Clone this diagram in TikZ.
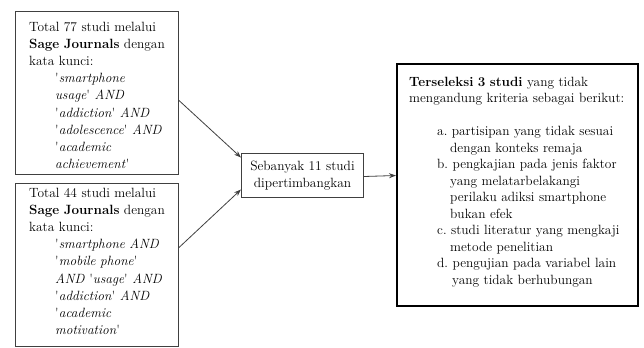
\documentclass[tikz,border=0pt]{standalone}
\usetikzlibrary{arrows.meta}
\definecolor{boxgray}{HTML}{404040}
\newcommand{\qq}{\textquotesingle}
\frenchspacing
\begin{document}
\begin{tikzpicture}[x=1bp,y=-1bp,
  box/.style={draw=boxgray, line width=1bp, inner sep=0pt, anchor=north west},
  bigbox/.style={draw=black, line width=2bp, inner sep=0pt, anchor=north west},
  txt/.style={inner sep=0pt, align=left, anchor=base west,
    font=\fontsize{13.4bp}{17.2bp}\selectfont},
  midtxt/.style={align=center, font=\fontsize{13.4bp}{17.2bp}\selectfont},
  arr/.style={draw=boxgray, line width=0.8bp, -{Stealth[length=7bp,width=5bp]}}
]
\useasboundingbox (0,0) rectangle (644,347);

% boxes
\node[box, minimum width=163bp, minimum height=163bp] (b1) at (15,11) {};
\node[box, minimum width=163bp, minimum height=163bp] (b2) at (15,183) {};
\node[box, minimum width=122bp, minimum height=44bp, midtxt] (mid) at (241,153)
  {Sebanyak 11 studi\\dipertimbangkan};
\node[bigbox, minimum width=241bp, minimum height=242bp] (res) at (396,63) {};

% texts
\node[txt, text width=160bp] (t1) at (29,31) {Total 77 studi melalui\\
\textbf{Sage Journals} dengan\\
kata kunci:\\
\hspace*{26bp}\qq\textit{smartphone}\\
\hspace*{26bp}\textit{usage}\qq{} \textit{AND}\\
\hspace*{26bp}\qq\textit{addiction}\qq{} \textit{AND}\\
\hspace*{26bp}\qq\textit{adolescence}\qq{} \textit{AND}\\
\hspace*{26bp}\qq\textit{academic}\\
\hspace*{26bp}\textit{achievement}\qq};

\node[txt, text width=160bp] (t2) at (29,197) {Total 44 studi melalui\\
\textbf{Sage Journals} dengan\\
kata kunci:\\
\hspace*{26bp}\qq\textit{smartphone AND}\\
\hspace*{26bp}\qq\textit{mobile phone}\qq\\
\hspace*{26bp}\textit{AND} \qq\textit{usage}\qq{} \textit{AND}\\
\hspace*{26bp}\qq\textit{addiction}\qq{} \textit{AND}\\
\hspace*{26bp}\qq\textit{academic}\\
\hspace*{26bp}\textit{motivation}\qq};

\node[txt, text width=230bp, font=\fontsize{13.4bp}{16.5bp}\selectfont] (t3) at (409,86)
{\textbf{Terseleksi 3 studi} yang tidak\\
mengandung kriteria sebagai berikut:\\[16.5bp]
\hspace*{28bp}a. partisipan yang tidak sesuai\\
\hspace*{41bp}dengan konteks remaja\\
\hspace*{28bp}b. pengkajian pada jenis faktor\\
\hspace*{41bp}yang melatarbelakangi\\
\hspace*{41bp}perilaku adiksi smartphone\\
\hspace*{41bp}bukan efek\\
\hspace*{28bp}c. studi literatur yang mengkaji\\
\hspace*{41bp}metode penelitian\\
\hspace*{28bp}d. pengujian pada variabel lain\\
\hspace*{43bp}yang tidak berhubungan};

% connectors
\draw[arr] ([yshift=-7.5bp]b1.east) -- ([yshift=18bp]mid.west);
\draw[arr] ([yshift=17.5bp]b2.east) -- ([yshift=-14bp]mid.west);
\draw[arr] ([yshift=-1bp]mid.east) -- (mid.east -| res.west);
\end{tikzpicture}
\end{document}
